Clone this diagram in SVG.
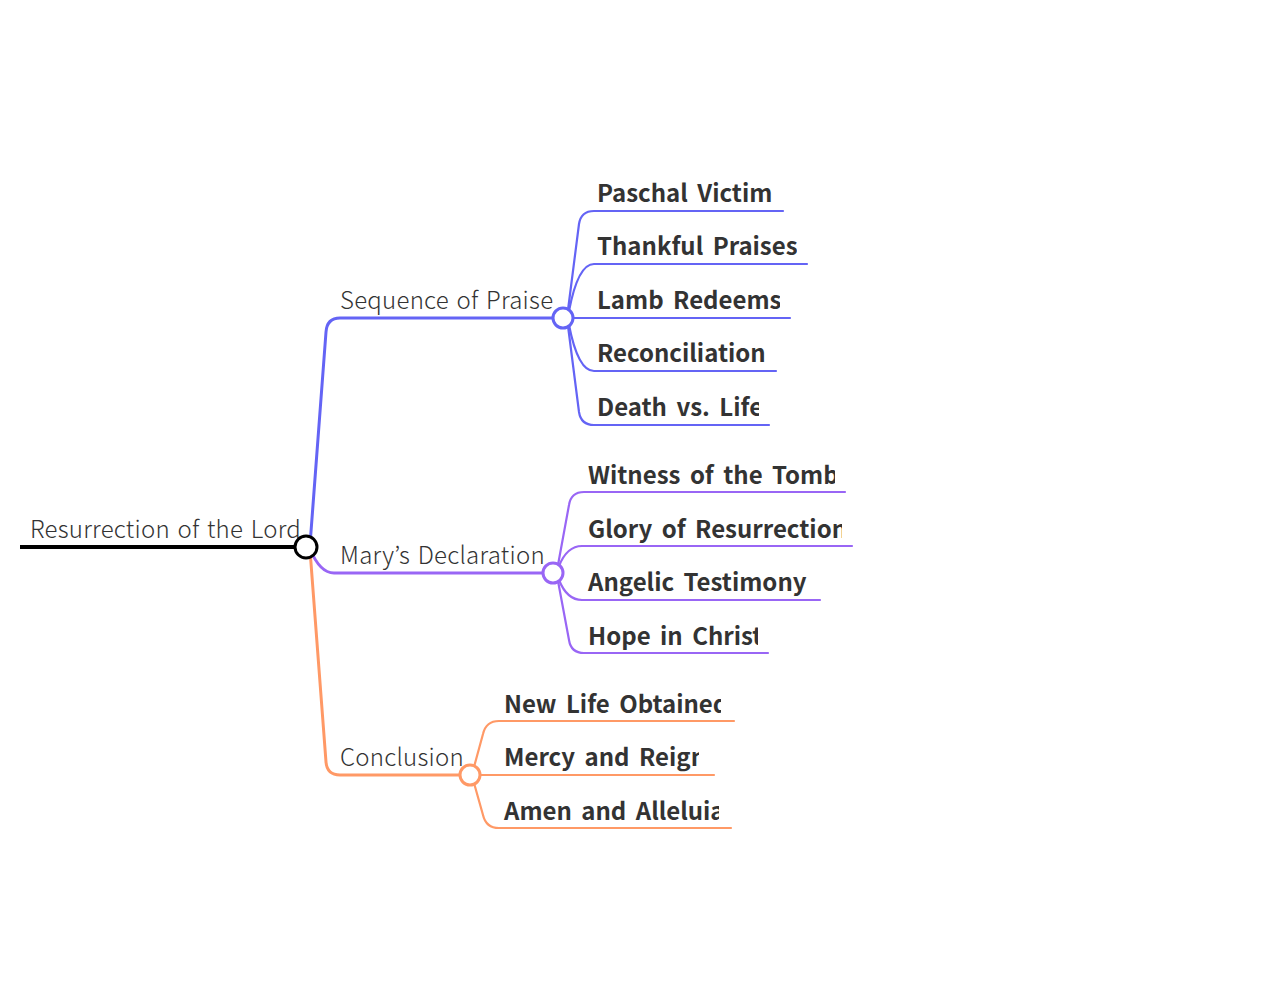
<svg xmlns="http://www.w3.org/2000/svg" width="1280" height="1000" viewBox="0 0 1280 1000">
<style>
.lt{font-family:"Noto Sans CJK KR","Noto Sans",sans-serif;font-weight:300;font-size:24px;fill:#333;letter-spacing:0.25px;word-spacing:2px}
.bd{font-family:"Noto Sans CJK KR","Noto Sans",sans-serif;font-weight:700;font-size:24px;fill:#333;word-spacing:4px}
.c{fill:none;stroke-linecap:round;stroke-linejoin:round}
.b{stroke:#6464f5}.p{stroke:#9966f5}.o{stroke:#ff9966}
.w3{stroke-width:3}.w2{stroke-width:2.2}
.dot{fill:#fff;stroke-width:3}
</style>
<defs>
<clipPath id="k1"><rect x="590" y="170" width="183" height="50"/></clipPath>
<clipPath id="k2"><rect x="590" y="222" width="207" height="48"/></clipPath>
<clipPath id="k3"><rect x="590" y="276" width="190" height="48"/></clipPath>
<clipPath id="k4"><rect x="590" y="330" width="176" height="48"/></clipPath>
<clipPath id="k5"><rect x="590" y="383" width="169" height="48"/></clipPath>
<clipPath id="m1"><rect x="580" y="450" width="255" height="48"/></clipPath>
<clipPath id="m2"><rect x="580" y="504" width="262" height="48"/></clipPath>
<clipPath id="m3"><rect x="580" y="558" width="230" height="48"/></clipPath>
<clipPath id="m4"><rect x="580" y="611" width="178" height="48"/></clipPath>
<clipPath id="n1"><rect x="497" y="680" width="224" height="48"/></clipPath>
<clipPath id="n2"><rect x="497" y="733" width="202" height="48"/></clipPath>
<clipPath id="n3"><rect x="497" y="787" width="222" height="48"/></clipPath>
</defs>
<g id="connectors">
<line x1="20" y1="547" x2="306" y2="547" stroke="#000" stroke-width="4"/>
<path class="c b w3" d="M310 545 L326 332 Q327 318 340 318 H553"/>
<path class="c p w3" d="M310 549 Q320 573 334 573 H543"/>
<path class="c o w3" d="M310 550 L326 762 Q327 775 340 775 H460"/>
<path class="c b w2" d="M568 310 L579 224 Q581 211 594 211 H783"/>
<path class="c b w2" d="M569 311 Q578 264 594 264 H807"/>
<path class="c b w2" d="M573 318 H790"/>
<path class="c b w2" d="M569 325 Q578 371 594 371 H776"/>
<path class="c b w2" d="M568 326 L579 412 Q581 425 594 425 H769"/>
<path class="c p w2" d="M558 565 L569 505 Q571 492 584 492 H845"/>
<path class="c p w2" d="M559 566 Q567 546 582 546 H852"/>
<path class="c p w2" d="M559 580 Q567 600 582 600 H820"/>
<path class="c p w2" d="M558 581 L569 640 Q571 653 584 653 H768"/>
<path class="c o w2" d="M474 767 L483 734 Q486 721 499 721 H734"/>
<path class="c o w2" d="M480 775 H714"/>
<path class="c o w2" d="M474 783 L483 815 Q486 828 499 828 H731"/>
</g>
<g id="root">
<text class="lt" x="30" y="538" fill="#444">Resurrection of the Lord</text>
<circle cx="306" cy="547" r="11" fill="#fff" stroke="#000" stroke-width="3"/>
</g>
<g id="sequence">
<text class="lt" x="340" y="309">Sequence of Praise</text>
<circle class="dot b" cx="563" cy="318" r="10"/>
</g>
<g id="mary">
<text class="lt" x="340" y="564">Mary’s Declaration</text>
<circle class="dot p" cx="553" cy="573" r="10"/>
</g>
<g id="conclusion">
<text class="lt" x="340" y="766">Conclusion</text>
<circle class="dot o" cx="470" cy="775" r="10"/>
</g>
<g id="leaf-paschal"><text class="bd" x="597" y="202" clip-path="url(#k1)">Paschal Victim</text></g>
<g id="leaf-thankful"><text class="bd" x="597" y="255" clip-path="url(#k2)">Thankful Praises</text></g>
<g id="leaf-lamb"><text class="bd" x="597" y="309" clip-path="url(#k3)">Lamb Redeems</text></g>
<g id="leaf-reconciliation"><text class="bd" x="597" y="362" clip-path="url(#k4)">Reconciliation</text></g>
<g id="leaf-death"><text class="bd" x="597" y="416" clip-path="url(#k5)">Death vs. Life</text></g>
<g id="leaf-witness"><text class="bd" x="588" y="484" clip-path="url(#m1)">Witness of the Tomb</text></g>
<g id="leaf-glory"><text class="bd" x="588" y="538" clip-path="url(#m2)">Glory of Resurrection</text></g>
<g id="leaf-angelic"><text class="bd" x="588" y="591" clip-path="url(#m3)">Angelic Testimony</text></g>
<g id="leaf-hope"><text class="bd" x="588" y="645" clip-path="url(#m4)">Hope in Christ</text></g>
<g id="leaf-newlife"><text class="bd" x="504" y="713" clip-path="url(#n1)">New Life Obtained</text></g>
<g id="leaf-mercy"><text class="bd" x="504" y="766" clip-path="url(#n2)">Mercy and Reign</text></g>
<g id="leaf-amen"><text class="bd" x="504" y="820" clip-path="url(#n3)">Amen and Alleluia</text></g>
</svg>
